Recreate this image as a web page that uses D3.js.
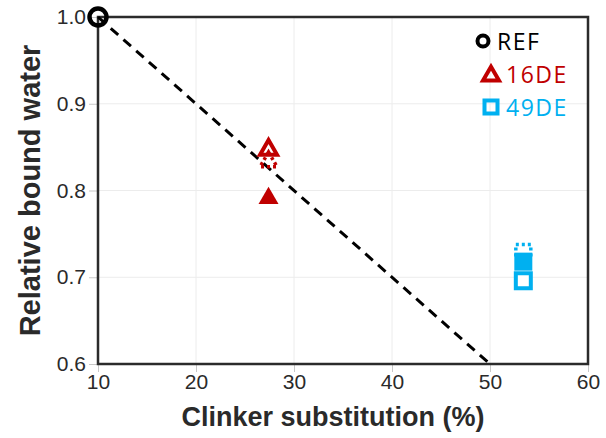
<!DOCTYPE html>
<html>
<head>
<meta charset="utf-8">
<script src="https://cdn.jsdelivr.net/npm/d3@7"></script>
<style>
  html, body { margin: 0; padding: 0; background: #fff; }
  svg { display: block; }
</style>
</head>
<body>
<svg id="chart" width="606" height="438"></svg>
<script>
// Tick values
const xTicks = [10, 20, 30, 40, 50, 60];
const yTicks = [0.6, 0.7, 0.8, 0.9, 1.0];

// Reference point and trend line
const refPoint = [{ x: 10, y: 1.0 }];
const trendLine = [{ x: 10, y: 1.0 }, { x: 50, y: 0.6 }];

// 16DE measurements (triangles)
const de16Open = [{ x: 27.4, y: 0.847 }];
const de16Dotted = [{ x: 27.4, y: 0.833 }];
const de16Filled = [{ x: 27.4, y: 0.791 }];

// 49DE measurements (squares)
const de49Dotted = [{ x: 53.4, y: 0.729 }];
const de49Filled = [{ x: 53.4, y: 0.718 }];
const de49Open = [{ x: 53.4, y: 0.696 }];

// Legend entries
const legendItems = [
  { label: "REF", shape: "circle", color: "#000000" },
  { label: "16DE", shape: "triangle", color: "#c00000" },
  { label: "49DE", shape: "square", color: "#00b0f0" }
];

const red = "#c00000", blue = "#00b0f0";
const axisFont = "'Liberation Sans', Arial, sans-serif";

const svg = d3.select("#chart");
const margin = { left: 98, right: 18, top: 17, bottom: 74 };
const W = 606, H = 438;

const x = d3.scaleLinear().domain([10, 60]).range([margin.left, W - margin.right]);
const y = d3.scaleLinear().domain([0.6, 1.0]).range([H - margin.bottom, margin.top]);

// Gridlines
const grid = svg.append("g");
grid.selectAll("line.v").data(xTicks).join("line")
  .attr("x1", d => x(d)).attr("x2", d => x(d))
  .attr("y1", y(1.0)).attr("y2", y(0.6))
  .attr("stroke", "#ececec").attr("stroke-width", 1);
grid.selectAll("line.h").data(yTicks).join("line")
  .attr("x1", x(10)).attr("x2", x(60))
  .attr("y1", d => y(d)).attr("y2", d => y(d))
  .attr("stroke", "#ececec").attr("stroke-width", 1);

// Axes
const xAxis = svg.append("g")
  .attr("transform", `translate(0,${y(0.6)})`)
  .call(d3.axisBottom(x).tickValues(xTicks).tickFormat(d3.format("d")).tickSize(8).tickPadding(2));
const yAxis = svg.append("g")
  .attr("transform", `translate(${x(10)},0)`)
  .call(d3.axisLeft(y).tickValues(yTicks).tickFormat(d3.format(".1f")).tickSize(9).tickPadding(3));
[xAxis, yAxis].forEach(a => {
  a.select(".domain").remove();
  a.selectAll(".tick line").attr("stroke", "#c8c8c8").attr("stroke-width", 1);
  a.selectAll(".tick text").attr("fill", "#2a2a2a")
    .style("font-family", axisFont).style("font-size", "21px");
});

// Frame
svg.append("rect")
  .attr("x", x(10)).attr("y", y(1.0))
  .attr("width", x(60) - x(10)).attr("height", y(0.6) - y(1.0))
  .attr("fill", "none").attr("stroke", "#2b2b2b").attr("stroke-width", 2.5);

// Axis titles
svg.append("text")
  .attr("x", (x(10) + x(60)) / 2 - 10).attr("y", 426)
  .attr("text-anchor", "middle")
  .style("font-family", axisFont)
  .style("font-size", "27px").style("font-weight", "bold").attr("fill", "#2a2a2a")
  .text("Clinker substitution (%)");
svg.append("text")
  .attr("transform", `translate(40,${(y(1.0) + y(0.6)) / 2 + 0}) rotate(-90)`)
  .attr("text-anchor", "middle")
  .style("font-family", axisFont)
  .style("font-size", "29px").style("font-weight", "bold").attr("fill", "#2a2a2a")
  .text("Relative bound water");

// Trend line
svg.append("path")
  .datum(trendLine)
  .attr("d", d3.line().x(d => x(d.x)).y(d => y(d.y)))
  .attr("fill", "none").attr("stroke", "#000").attr("stroke-width", 3)
  .attr("stroke-dasharray", "10,7");

// Marker helpers
const triPath = s => {
  const h = s * Math.sqrt(3) / 2;
  return `M0,${-h * 2 / 3}L${s / 2},${h / 3}L${-s / 2},${h / 3}Z`;
};
const sqPath = s => `M${-s / 2},${-s / 2}H${s / 2}V${s / 2}H${-s / 2}Z`;

function markers(data, pathStr, opts) {
  svg.append("g").selectAll("path").data(data).join("path")
    .attr("transform", d => `translate(${x(d.x)},${y(d.y)})`)
    .attr("d", pathStr)
    .attr("fill", opts.fill || "none")
    .attr("stroke", opts.stroke || "none")
    .attr("stroke-width", opts.sw || 0)
    .attr("stroke-dasharray", opts.dash || null);
}

// 16DE triangles
markers(de16Open, triPath(17), { fill: "#fff", stroke: red, sw: 4 });
markers(de16Dotted, triPath(17), { fill: "none", stroke: red, sw: 3.5, dash: "3,3" });
markers(de16Filled, triPath(20), { fill: red });

// 49DE squares
markers(de49Dotted, sqPath(15), { fill: "none", stroke: blue, sw: 3.5, dash: "3,3" });
markers(de49Filled, sqPath(18), { fill: blue });
markers(de49Open, sqPath(15), { fill: "#fff", stroke: blue, sw: 4 });

// REF circle
svg.append("g").selectAll("circle").data(refPoint).join("circle")
  .attr("cx", d => x(d.x)).attr("cy", d => y(d.y)).attr("r", 8.5)
  .attr("fill", "none").attr("stroke", "#000").attr("stroke-width", 4.5);

// Legend
const lg = svg.append("g").attr("transform", "translate(488,41)");
const rows = lg.selectAll("g").data(legendItems).join("g")
  .attr("transform", (d, i) => `translate(0,${i * 33})`);
rows.each(function (d) {
  const g = d3.select(this);
  if (d.shape === "circle") {
    g.append("circle").attr("cx", -5).attr("r", 5.5).attr("fill", "none").attr("stroke", d.color).attr("stroke-width", 4);
  } else if (d.shape === "triangle") {
    g.append("path").attr("d", triPath(16)).attr("transform", "translate(3,2)")
      .attr("fill", "none").attr("stroke", d.color).attr("stroke-width", 4).attr("stroke-linejoin", "miter");
  } else {
    g.append("path").attr("d", sqPath(13)).attr("transform", "translate(3,0)")
      .attr("fill", "none").attr("stroke", d.color).attr("stroke-width", 4);
  }
  g.append("text").attr("x", d.shape === "circle" ? 9 : 18).attr("y", 8.5)
    .style("font-family", "'Open Sans', 'Liberation Sans', sans-serif").style("font-size", "23px")
    .style("letter-spacing", "1.5px")
    .attr("fill", d.color).text(d.label);
});
</script>
</body>
</html>
